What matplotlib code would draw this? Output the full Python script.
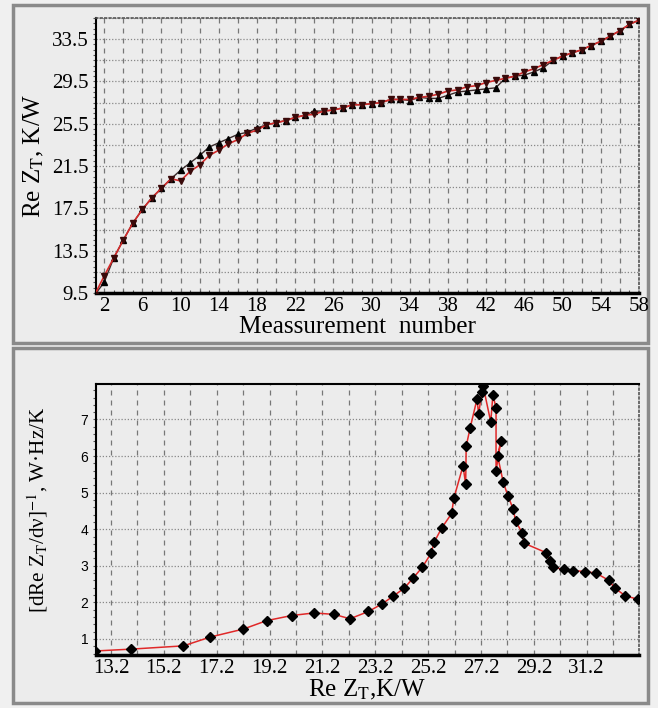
import numpy as np
import matplotlib
matplotlib.use("Agg")
import matplotlib.pyplot as plt
from matplotlib.patches import Rectangle
from matplotlib.ticker import MultipleLocator

plt.rcParams['mathtext.fontset'] = 'stix'
SERIF = ['Liberation Serif', 'DejaVu Serif']
SANS = ['Liberation Sans', 'DejaVu Sans']

# ---------------- data: top panel ----------------
meas_n = list(range(1, 59))
rez_up = [9.3, 10.5, 12.8, 14.5, 16.1, 17.4, 18.5, 19.4, 20.3, 21.1,
          21.8, 22.5, 23.3, 23.7, 24.1, 24.5, 24.7, 25.1, 25.4, 25.6,
          25.8, 26.1, 26.3, 26.7, 26.7, 26.8, 27.0, 27.3, 27.3, 27.4,
          27.5, 27.8, 27.8, 27.7, 28.0, 27.9, 27.9, 28.2, 28.5, 28.6,
          28.7, 28.8, 28.9, 29.8, 30.0, 30.1, 30.4, 30.8, 31.5, 31.9,
          32.2, 32.5, 32.9, 33.3, 33.8, 34.3, 34.9, 35.3]
rez_down = [9.3, 11.1, 12.8, 14.5, 16.1, 17.4, 18.5, 19.4, 20.3, 20.1,
            21.0, 21.6, 22.5, 23.0, 23.6, 24.0, 24.6, 24.9, 25.4, 25.6,
            25.8, 26.1, 26.3, 26.4, 26.7, 26.8, 27.0, 27.3, 27.3, 27.4,
            27.5, 27.8, 27.8, 27.8, 28.0, 28.1, 28.3, 28.6, 28.7, 29.0,
            29.1, 29.4, 29.6, 29.8, 30.0, 30.4, 30.7, 31.1, 31.5, 31.9,
            32.2, 32.5, 32.9, 33.3, 33.8, 34.3, 34.9, 35.3]
top_xticks = list(range(2, 59, 4))
top_yticks = [9.5, 13.5, 17.5, 21.5, 25.5, 29.5, 33.5]

# ---------------- data: bottom panel (ordered path) ----------------
rez_b = [12.60, 13.95, 15.94, 16.95, 18.21, 19.09, 20.04, 20.88, 21.65, 22.24,
         22.94, 23.44, 23.86, 24.30, 24.64, 24.98, 25.31, 25.43, 25.72, 26.09,
         26.17, 26.52, 26.62, 26.64, 26.79, 27.05, 27.11, 27.23, 27.28, 27.57,
         27.65, 27.77, 27.77, 27.95, 27.83, 28.04, 28.22, 28.42, 28.51, 28.76,
         28.82, 29.66, 29.81, 29.92, 30.35, 30.69, 31.15, 31.55, 32.04, 32.26,
         32.66, 33.15]
dinv_b = [0.67, 0.72, 0.81, 1.05, 1.27, 1.50, 1.64, 1.71, 1.67, 1.55,
          1.75, 1.95, 2.16, 2.39, 2.67, 2.96, 3.34, 3.65, 4.04, 4.43,
          4.84, 5.73, 5.23, 6.27, 6.77, 7.56, 7.14, 7.76, 7.92, 6.93,
          7.67, 7.32, 5.60, 6.41, 6.00, 5.29, 4.91, 4.55, 4.22, 3.90,
          3.62, 3.36, 3.14, 2.96, 2.90, 2.87, 2.84, 2.80, 2.60, 2.39,
          2.18, 2.08]
bot_xticks = [13.2, 15.2, 17.2, 19.2, 21.2, 23.2, 25.2, 27.2, 29.2, 31.2]
bot_yticks = [1, 2, 3, 4, 5, 6, 7]

W, H = 658, 708
fig = plt.figure(figsize=(W / 100, H / 100), dpi=100, facecolor='#f0f0f0')

PANEL = '#ececec'
for (x0, y0, x1, y1) in [(13, 5, 648, 343), (13, 348, 648, 703)]:
    fig.patches.append(Rectangle((x0 / W, 1 - y1 / H), (x1 - x0) / W, (y1 - y0) / H,
                                 transform=fig.transFigure, facecolor=PANEL,
                                 edgecolor='#8a8a8a', lw=2.5, zorder=-10))


def ax_rect(l, t, r, b):
    return [l / W, 1 - b / H, (r - l) / W, (b - t) / H]


def style_axes(ax, top_solid):
    ax.set_facecolor(PANEL)
    ax.spines['left'].set_color('black')
    ax.spines['left'].set_linewidth(1.5)
    ax.spines['bottom'].set_color('black')
    ax.spines['bottom'].set_linewidth(2.5)
    if top_solid:
        ax.spines['top'].set_color('black')
        ax.spines['top'].set_linewidth(1.5)
    else:
        ax.spines['top'].set_color('#555555')
        ax.spines['top'].set_linestyle(':')
        ax.spines['top'].set_linewidth(1.2)
    ax.spines['right'].set_color('#555555')
    ax.spines['right'].set_linestyle(':')
    ax.spines['right'].set_linewidth(1.2)
    ax.tick_params(axis='y', which='both', direction='out', length=2.5,
                   color='#555555', width=0.8, pad=4)
    ax.tick_params(axis='x', which='major', direction='in', length=0, pad=3)
    ax.tick_params(axis='x', which='minor', direction='in', length=2.5,
                   color='#555555', width=0.8)


# ---------------- top panel ----------------
ax1 = fig.add_axes(ax_rect(96, 18, 639, 293))
style_axes(ax1, top_solid=False)
ax1.set_xlim(1.15, 58.0)
ax1.set_ylim(9.5, 35.5)
for gx in np.arange(2, 59, 2):
    ax1.axvline(gx, color='#777777', lw=0.9, ls=(0, (4, 4)), zorder=1)
for gy in np.arange(9.5, 35.6, 2):
    ax1.axhline(gy, color='#888888', lw=0.9, ls=(0, (1, 1.5)), zorder=1)
ax1.plot(meas_n, rez_up, color='#3a2a2a', lw=1.0, marker='^', ms=4.5,
         mfc='black', mec='black', zorder=3)
ax1.plot(meas_n, rez_down, color='#d42a2a', lw=1.2, marker='v', ms=4.5,
         mfc='#3a0a0a', mec='#3a0a0a', zorder=4)
ax1.set_xticks(top_xticks)
ax1.set_yticks(top_yticks)
ax1.set_yticklabels([f"{v:.1f}" for v in top_yticks])
ax1.xaxis.set_minor_locator(MultipleLocator(1))
ax1.yaxis.set_minor_locator(MultipleLocator(0.5))
for lab in ax1.get_xticklabels() + ax1.get_yticklabels():
    lab.set_fontfamily(SERIF)
    lab.set_fontsize(15)
ax1.tick_params(axis='y', pad=3)
ax1.set_xlabel('Meassurement  number', fontfamily=SERIF, fontsize=18.2)
ax1.xaxis.set_label_coords(0.4816, -0.085)
ax1.set_ylabel(r'Re Z$_{\rm T}$, K/W', fontfamily=SERIF, fontsize=18, labelpad=4)

# ---------------- bottom panel ----------------
ax2 = fig.add_axes(ax_rect(96, 384, 639, 655))
style_axes(ax2, top_solid=True)
ax2.set_xlim(12.63, 33.18)
ax2.set_ylim(0.56, 7.97)
for gx in np.arange(13.2, 33.2, 1.0):
    ax2.axvline(gx, color='#777777', lw=0.9, ls=(0, (4, 4)), zorder=1)
for gy in bot_yticks:
    ax2.axhline(gy, color='#888888', lw=0.9, ls=(0, (1, 1.5)), zorder=1)
ax2.plot(rez_b, dinv_b, color='#e02828', lw=1.1, zorder=3)
ax2.plot(rez_b, dinv_b, ls='none', marker='D', ms=5.5, mfc='black', mec='black', zorder=4)
ax2.set_xticks(bot_xticks)
ax2.set_xticklabels([f"{v:.1f}" for v in bot_xticks])
ax2.set_yticks(bot_yticks)
ax2.yaxis.set_minor_locator(MultipleLocator(0.2))
for lab in ax2.get_xticklabels():
    lab.set_fontfamily(SERIF)
    lab.set_fontsize(15)
for lab in ax2.get_yticklabels():
    lab.set_fontfamily(SANS)
    lab.set_fontsize(10)
ax2.tick_params(axis='y', pad=3)
ax2.set_xlabel(r'Re Z$_{\rm T}$,K/W', fontfamily=SERIF, fontsize=18, labelpad=0)
ax2.set_ylabel(r'[dRe Z$_{\rm T}$/dν]$^{-1}$, W·Hz/K', fontfamily=SERIF, fontsize=15.2)
ax2.yaxis.set_label_coords(-0.085, 0.535)

fig.savefig('out.png', dpi=100, facecolor=fig.get_facecolor())
